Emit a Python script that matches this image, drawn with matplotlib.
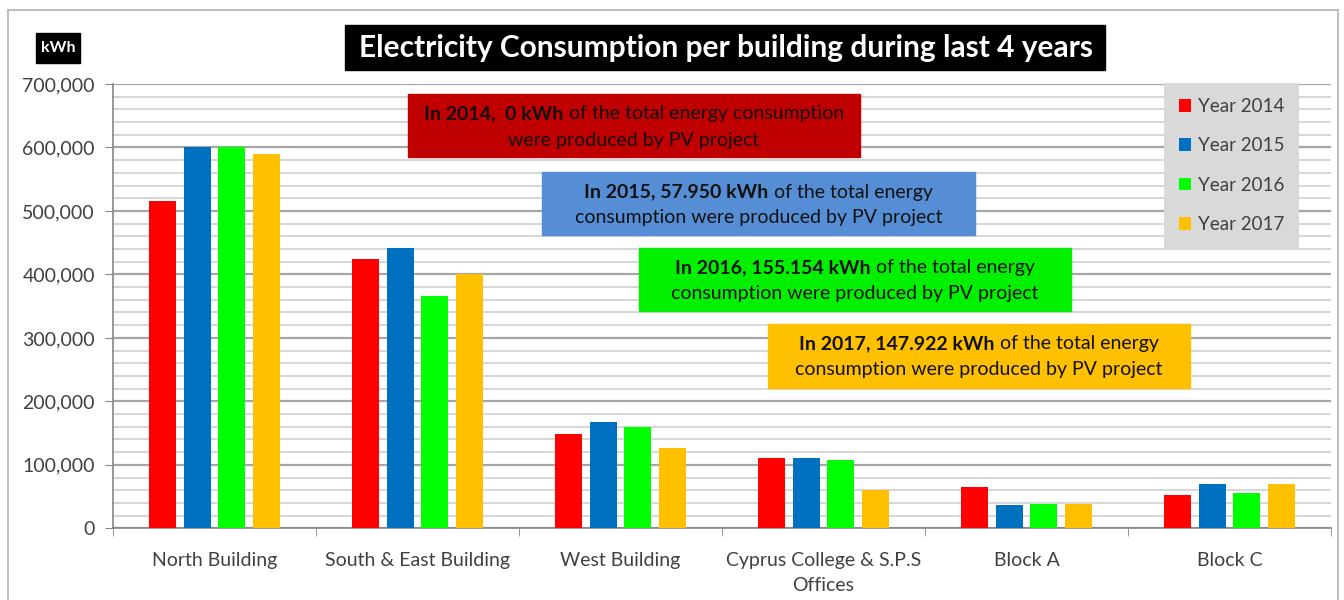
import matplotlib
matplotlib.use("Agg")
import matplotlib.pyplot as plt
import numpy as np
from matplotlib.patches import Rectangle
from matplotlib.ticker import MultipleLocator, FuncFormatter, FixedLocator

plt.rcParams['font.family'] = ['Lato', 'DejaVu Sans']

# Data
buildings = ["North Building", "South & East Building", "West Building",
             "Cyprus College & S.P.S\nOffices", "Block A", "Block C"]
years = ["Year 2014", "Year 2015", "Year 2016", "Year 2017"]
kwh_2014 = [515000, 424000, 149000, 111000, 65000, 52000]
kwh_2015 = [600000, 441000, 168000, 111000, 36000, 70000]
kwh_2016 = [600000, 366000, 160000, 108000, 39000, 55000]
kwh_2017 = [590000, 400000, 127000, 60000, 39000, 70000]
bar_colors = ["#ff0000", "#0070c0", "#00ff00", "#ffc000"]

note_bold = ["In 2014,  0 kWh", "In 2015, 57.950 kWh",
             "In 2016, 155.154 kWh", "In 2017, 147.922 kWh"]
note_rest = [" of the total energy consumption", " of the total energy",
             " of the total energy", " of the total energy"]
note_line2 = ["were produced by PV project",
              "consumption were produced by PV project",
              "consumption were produced by PV project",
              "consumption were produced by PV project"]
note_colors = ["#c00000", "#558ed5", "#00f000", "#ffc000"]

W, H = 1344, 600
fig = plt.figure(figsize=(W / 100, H / 100), dpi=100)

# outer frame of the embedded chart
fig.patches.append(Rectangle((8 / W, -0.01), 1330 / W, 1 - 10 / H + 0.01,
                             transform=fig.transFigure, fill=False,
                             edgecolor="#bfbfbf", lw=1.5))

ax = fig.add_axes([113 / W, 1 - 528.3 / H, 1218 / W, 444.3 / H])

x = np.arange(len(buildings))
series = [kwh_2014, kwh_2015, kwh_2016, kwh_2017]
step, width = 0.172, 0.133
handles = []
for i, (vals, col, lab) in enumerate(zip(series, bar_colors, years)):
    b = ax.bar(x + (i - 1.5) * step, vals, width, color=col, label=lab, zorder=3)
    handles.append(b)

ax.set_xlim(-0.5, len(buildings) - 0.5)
ax.set_ylim(0, 700000)
ax.yaxis.set_major_locator(MultipleLocator(100000))
ax.yaxis.set_minor_locator(MultipleLocator(20000))
ax.yaxis.set_major_formatter(FuncFormatter(lambda v, p: f"{v:,.0f}"))
ax.grid(axis="y", which="major", color="#a6a6a6", lw=1.6, zorder=0)
ax.grid(axis="y", which="minor", color="#d0d0d0", lw=1.2, zorder=0)
ax.set_axisbelow(True)

ax.set_xticks(x)
ax.set_xticklabels(buildings, fontsize=14, color="#404040", linespacing=1.6)
ax.xaxis.set_minor_locator(FixedLocator(np.arange(-0.5, len(buildings), 1.0)))
ax.tick_params(axis="x", which="major", length=0, pad=17)
ax.tick_params(axis="x", which="minor", length=6, color="#868686")
ax.tick_params(axis="y", which="major", length=6, color="#868686",
               labelsize=14, labelcolor="#404040", pad=7)
ax.tick_params(axis="y", which="minor", length=0)

for s in ["top", "right"]:
    ax.spines[s].set_visible(False)
for s in ["left", "bottom"]:
    ax.spines[s].set_color("#868686")
    ax.spines[s].set_linewidth(1.2)

leg = ax.legend(handles=handles, loc="upper right",
                bbox_to_anchor=(1299 / W, 1 - 83 / H), bbox_transform=fig.transFigure,
                borderaxespad=0, frameon=True, fancybox=False, facecolor="#d9d9d9",
                edgecolor="none", framealpha=1, fontsize=13.5, labelspacing=1.19,
                handlelength=0.65, handleheight=0.65, handletextpad=0.35,
                borderpad=0.8)
for t in leg.get_texts():
    t.set_color("#404040")

# title box
fig.patches.append(Rectangle((345 / W, 1 - 70 / H), 760 / W, 45 / H,
                             transform=fig.transFigure, color="black"))
fig.text(726 / W, 1 - 48 / H, "Electricity Consumption per building during last 4 years",
         ha="center", va="center", color="white", fontsize=21.5, fontweight="bold")

# kWh unit box
fig.patches.append(Rectangle((36 / W, 1 - 63 / H), 44 / W, 30 / H,
                             transform=fig.transFigure, color="black"))
fig.text(58 / W, 1 - 48 / H, "kWh", ha="center", va="center", color="white",
         fontsize=11.5, fontweight="bold")

# PV notes (pixel boxes: left, top, right, bottom)
note_boxes = [(408, 94, 860, 157), (542, 172, 975, 235),
              (639, 248, 1071, 311), (768, 324, 1190, 388)]
pairs = []
for bold, rest, l2, col, (l, t, r, b) in zip(note_bold, note_rest, note_line2,
                                            note_colors, note_boxes):
    fig.patches.append(Rectangle((l / W, 1 - b / H), (r - l) / W, (b - t) / H,
                                 transform=fig.transFigure, color=col, zorder=5))
    y1 = 1 - (t + 20) / H
    y2 = 1 - (t + 46) / H
    tb = fig.text(0, y1, bold, ha="left", va="center", fontsize=14,
                  fontweight="bold", color="#111111", zorder=6)
    tn = fig.text(0, y1, rest, ha="left", va="center", fontsize=14,
                  color="#111111", zorder=6)
    fig.text((l + r) / 2 / W, y2, l2, ha="center", va="center", fontsize=14,
             color="#111111", zorder=6)
    pairs.append((tb, tn, (l + r) / 2))

fig.canvas.draw()
rend = fig.canvas.get_renderer()
for tb, tn, cx in pairs:
    wb = tb.get_window_extent(rend).width
    wn = tn.get_window_extent(rend).width
    x0 = cx - (wb + wn) / 2
    tb.set_x(x0 / W)
    tn.set_x((x0 + wb) / W)

fig.savefig("out.png", dpi=100)
